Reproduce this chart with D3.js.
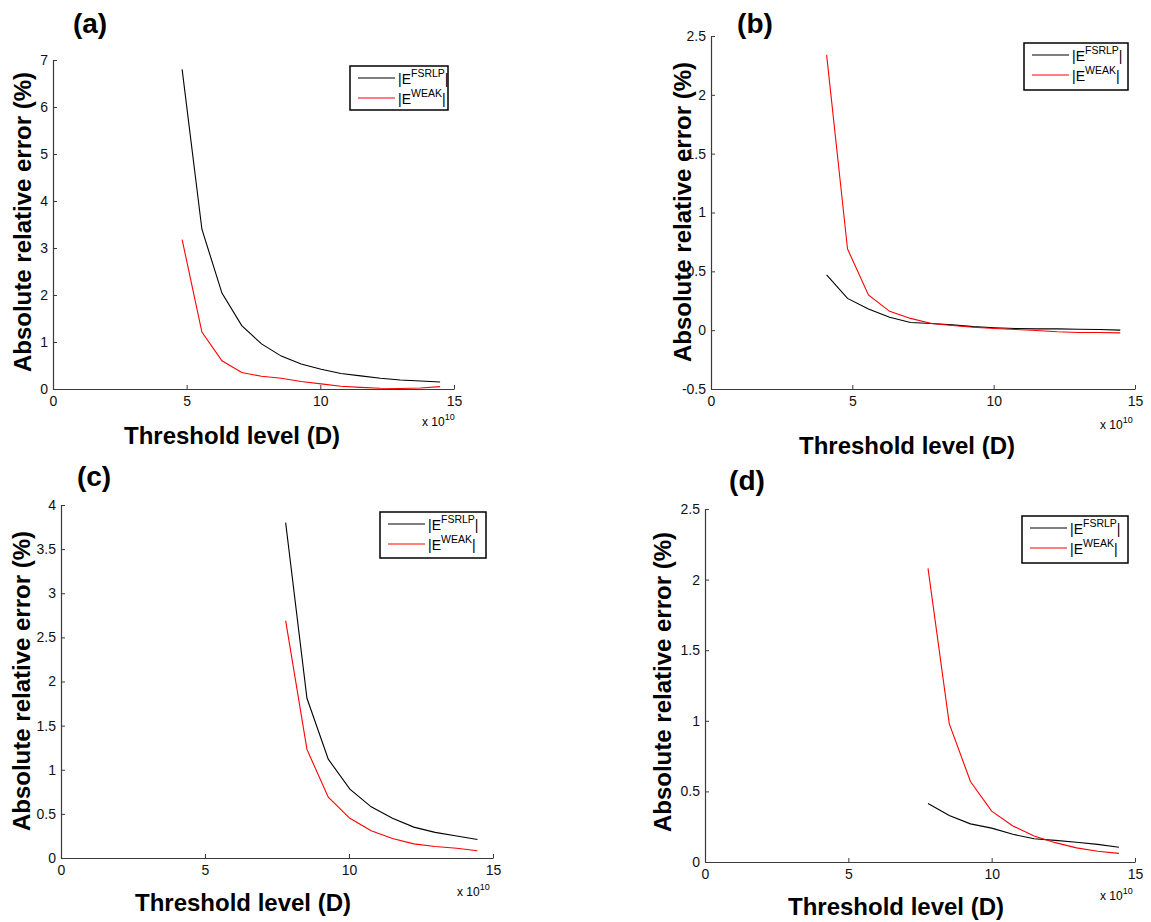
<!DOCTYPE html>
<html>
<head>
<meta charset="utf-8">
<script src="https://cdn.jsdelivr.net/npm/d3@7"></script>
<style>
  html, body { margin: 0; padding: 0; background: #fff; }
  svg { display: block; font-family: Arial, "Liberation Sans", Helvetica, sans-serif; }
</style>
</head>
<body>
<svg id="chart" width="1151" height="922"></svg>
<script>
// ---------- data (threshold in units of 1e10, error in %) ----------
const xTicks = [0, 5, 10, 15];
const legendLabels = ["FSRLP", "WEAK"];

const xA = [4.83, 5.57, 6.32, 7.06, 7.80, 8.54, 9.28, 10.03, 10.77, 11.51, 12.25, 12.99, 13.74, 14.48];
const fsrlpA = [6.80, 3.40, 2.04, 1.35, 0.96, 0.70, 0.53, 0.42, 0.33, 0.28, 0.23, 0.19, 0.17, 0.15];
const weakA  = [3.18, 1.21, 0.60, 0.35, 0.27, 0.23, 0.16, 0.11, 0.06, 0.035, 0.015, 0.01, 0.02, 0.05];
const yTicksA = [0, 1, 2, 3, 4, 5, 6, 7];

const xB = [4.09, 4.83, 5.57, 6.32, 7.06, 7.80, 8.54, 9.28, 10.03, 10.77, 11.51, 12.25, 12.99, 13.74, 14.48];
const fsrlpB = [0.47, 0.27, 0.18, 0.11, 0.065, 0.057, 0.045, 0.03, 0.02, 0.014, 0.011, 0.011, 0.008, 0.006, 0.0];
const weakB  = [2.34, 0.69, 0.30, 0.16, 0.10, 0.057, 0.04, 0.025, 0.014, 0.006, -0.003, -0.014, -0.02, -0.02, -0.023];
const yTicksB = [-0.5, 0, 0.5, 1, 1.5, 2, 2.5];

const xC = [7.80, 8.54, 9.28, 10.03, 10.77, 11.51, 12.25, 12.99, 13.74, 14.46];
const fsrlpC = [3.80, 1.81, 1.12, 0.78, 0.58, 0.45, 0.35, 0.29, 0.25, 0.21];
const weakC  = [2.69, 1.23, 0.69, 0.45, 0.31, 0.22, 0.16, 0.13, 0.11, 0.083];
const yTicksC = [0, 0.5, 1, 1.5, 2, 2.5, 3, 3.5, 4];

const xD = [7.78, 8.52, 9.26, 10.00, 10.74, 11.48, 12.22, 12.96, 13.70, 14.44];
const fsrlpD = [0.415, 0.33, 0.27, 0.24, 0.196, 0.165, 0.153, 0.14, 0.125, 0.104];
const weakD  = [2.08, 0.98, 0.57, 0.36, 0.255, 0.184, 0.137, 0.10, 0.076, 0.061];
const yTicksD = [0, 0.5, 1, 1.5, 2, 2.5];

// ---------- layout ----------
const panels = [
  { label: "(a)", x: xA, s1: fsrlpA, s2: weakA, yTicks: yTicksA,
    box: { l: 53, r: 454, t: 60, b: 389 }, labelPos: [90, 33],
    yTitle: [31, 222], xTitle: [232, 444], mult: [422, 426], legend: [350, 66, 98, 44] },
  { label: "(b)", x: xB, s1: fsrlpB, s2: weakB, yTicks: yTicksB,
    box: { l: 711, r: 1135, t: 36, b: 389 }, labelPos: [755, 33],
    yTitle: [691, 212], xTitle: [907, 454], mult: [1100, 429], legend: [1024, 43, 104, 47] },
  { label: "(c)", x: xC, s1: fsrlpC, s2: weakC, yTicks: yTicksC,
    box: { l: 61, r: 493, t: 505, b: 858 }, labelPos: [94, 486],
    yTitle: [30, 681], xTitle: [243, 911], mult: [457, 896], legend: [380, 512, 106, 46] },
  { label: "(d)", x: xD, s1: fsrlpD, s2: weakD, yTicks: yTicksD,
    box: { l: 705, r: 1135, t: 509, b: 862 }, labelPos: [747, 490],
    yTitle: [671, 682], xTitle: [896, 915], mult: [1100, 900], legend: [1022, 516, 106, 47] }
];

const svg = d3.select("#chart");
const axisColor = "#3a3a3a";

panels.forEach(p => {
  const yDom = [p.yTicks[0], p.yTicks[p.yTicks.length - 1]];
  const xs = d3.scaleLinear().domain([xTicks[0], xTicks[xTicks.length - 1]]).range([p.box.l, p.box.r]);
  const ys = d3.scaleLinear().domain(yDom).range([p.box.b, p.box.t]);
  const g = svg.append("g");

  // x axis (ticks pointing inward)
  const xAxis = d3.axisBottom(xs).tickValues(xTicks).tickSizeInner(-4).tickSizeOuter(0)
    .tickPadding(7).tickFormat(d => String(d));
  const gx = g.append("g").attr("transform", `translate(0,${p.box.b})`).call(xAxis);
  // y axis
  const yAxis = d3.axisLeft(ys).tickValues(p.yTicks).tickSizeInner(-4).tickSizeOuter(0)
    .tickPadding(5).tickFormat(d => String(d));
  const gy = g.append("g").attr("transform", `translate(${p.box.l},0)`).call(yAxis);
  [gx, gy].forEach(a => {
    a.select(".domain").attr("stroke", axisColor).attr("stroke-width", 1.2);
    a.selectAll(".tick line").attr("stroke", axisColor);
    a.selectAll(".tick text").attr("fill", "#111").style("font-size", "14px")
      .style("font-family", "Arial, 'Liberation Sans', sans-serif");
  });

  // lines
  const line = d3.line().x((d, i) => xs(p.x[i])).y(d => ys(d));
  g.append("path").datum(p.s1).attr("d", line).attr("fill", "none")
    .attr("stroke", "#000").attr("stroke-width", 1.1);
  g.append("path").datum(p.s2).attr("d", line).attr("fill", "none")
    .attr("stroke", "#ff0000").attr("stroke-width", 1.1);

  // panel label
  g.append("text").attr("x", p.labelPos[0]).attr("y", p.labelPos[1]).attr("text-anchor", "middle")
    .style("font-size", "28px").style("font-weight", "bold").text(p.label);

  // axis titles
  g.append("text").attr("transform", `translate(${p.yTitle[0]},${p.yTitle[1]}) rotate(-90)`)
    .attr("text-anchor", "middle").style("font-size", "24px").style("font-weight", "bold")
    .text("Absolute relative error (%)");
  g.append("text").attr("x", p.xTitle[0]).attr("y", p.xTitle[1]).attr("text-anchor", "middle")
    .style("font-size", "24px").style("font-weight", "bold").text("Threshold level (D)");

  // x 10^10 multiplier
  const m = g.append("text").attr("x", p.mult[0]).attr("y", p.mult[1]).style("font-size", "12px");
  m.append("tspan").text("x 10");
  m.append("tspan").attr("dy", -6).style("font-size", "9px").text("10");

  // legend
  const [lx, ly, lw, lh] = p.legend;
  const lg = g.append("g");
  lg.append("rect").attr("x", lx).attr("y", ly).attr("width", lw).attr("height", lh)
    .attr("fill", "#fff").attr("stroke", "#000").attr("stroke-width", 1.5);
  const colors = ["#000", "#ff0000"];
  legendLabels.forEach((lab, i) => {
    const yy = ly + 12 + i * 20;
    lg.append("line").attr("x1", lx + 8).attr("x2", lx + 45).attr("y1", yy).attr("y2", yy)
      .attr("stroke", colors[i]).attr("stroke-width", 1.2);
    const t = lg.append("text").attr("x", lx + 48).attr("y", yy + 6).style("font-size", "14px");
    t.append("tspan").text("|E");
    t.append("tspan").attr("dy", -7).style("font-size", "10.5px").text(lab);
    t.append("tspan").attr("dy", 7).text("|");
  });
});
</script>
</body>
</html>
